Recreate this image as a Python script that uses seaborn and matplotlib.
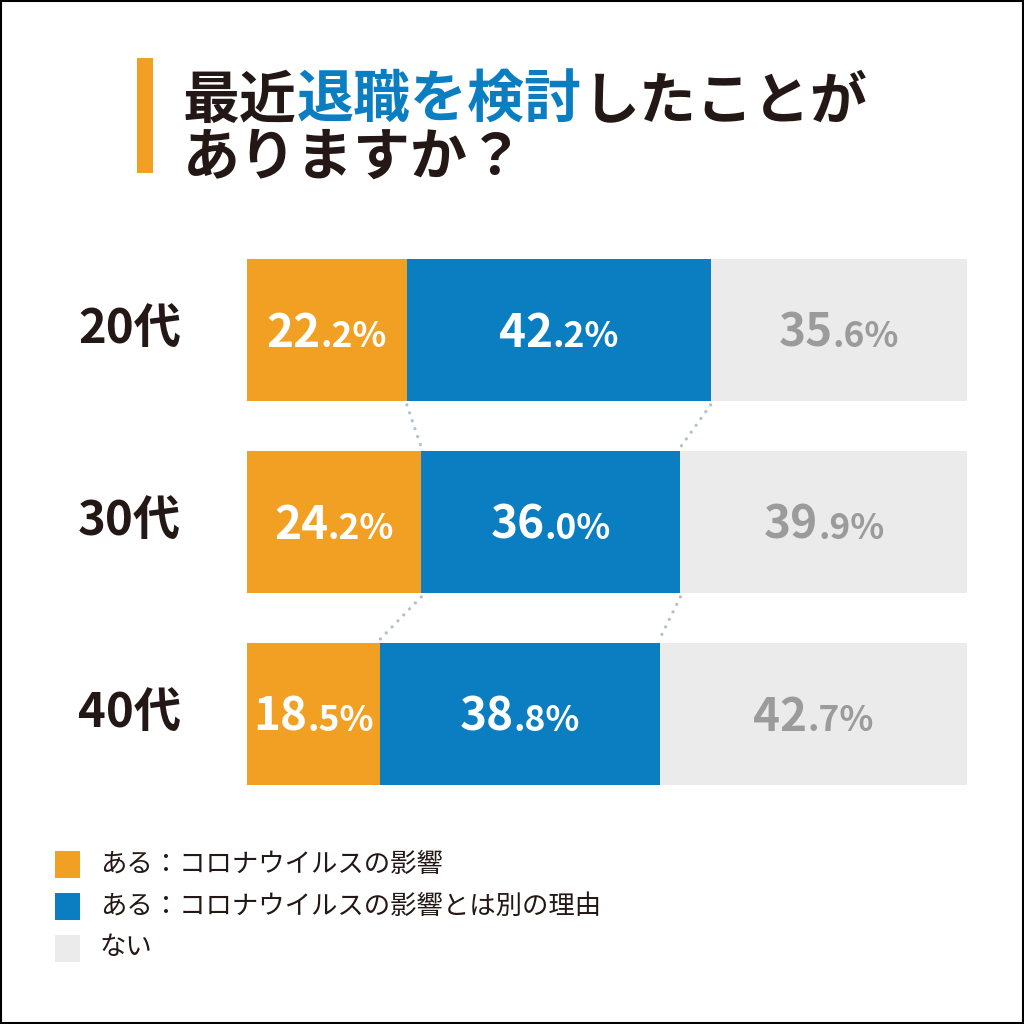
import matplotlib
matplotlib.use("Agg")
import matplotlib.pyplot as plt
import matplotlib.transforms as mtransforms
from matplotlib.patches import Rectangle
import seaborn as sns
import pandas as pd

# data
ages = ["20代", "30代", "40代"]
corona = [22.2, 24.2, 18.5]
other_reason = [42.2, 36.0, 38.8]
no_answer = [35.6, 39.9, 42.7]
legend_labels = ["ある：コロナウイルスの影響",
                 "ある：コロナウイルスの影響とは別の理由",
                 "ない"]
title_line1 = [("最近", "dark"), ("退職を検討", "blue"), ("したことが", "dark")]
title_line2 = "ありますか？"

ORANGE = "#F2A024"
BLUE = "#0B7EC2"
LIGHT = "#EBEBEB"
DARK = "#231815"
GRAYTXT = "#9B9B9B"
DOT = "#B4C1CB"

sns.set_style("white")
plt.rcParams["font.family"] = ["Noto Sans CJK JP", "DejaVu Sans"]

W = H = 1024
fig = plt.figure(figsize=(W / 100, H / 100), dpi=100)
fig.patch.set_facecolor("white")

df = pd.DataFrame({"age": ages, "corona": corona,
                   "other": other_reason, "none": no_answer})
df["cum2"] = df["corona"] + df["other"]
df["total"] = df["cum2"] + df["none"]

# bar area: x 247..967 px, rows centred at 330/522/714 px
ax = fig.add_axes([247 / W, 1 - 810 / H, 720 / W, 576 / H])
bw = 0.74
for col, c in [("total", LIGHT), ("cum2", BLUE), ("corona", ORANGE)]:
    sns.barplot(data=df, x=col, y="age", color=c, width=bw, saturation=1,
                orient="h", ax=ax, linewidth=0)
ax.set_xlim(0, 100)
ax.set_ylim(2.5, -0.5)
ax.axis("off")

# dotted connectors between rows
for i in range(len(ages) - 1):
    for a, b in [(df["corona"][i], df["corona"][i + 1]),
                 (df["cum2"][i], df["cum2"][i + 1])]:
        ax.plot([a, b], [i + bw / 2 + 0.02, i + 1 - bw / 2 - 0.02],
                color=DOT, lw=2.4, linestyle=(0, (0.01, 2.5)),
                dash_capstyle="round", solid_capstyle="round")

# category labels
blend = mtransforms.blended_transform_factory(fig.transFigure, ax.transData)
for i, a in enumerate(ages):
    ax.text(78 / W, i, a, transform=blend, ha="left", va="center",
            fontsize=34, fontweight="bold", color=DARK)

# value labels: big integer part + smaller decimal part
pairs = []
for i in range(len(ages)):
    segs = [(df["corona"][i] / 2, df["corona"][i], "white"),
            (df["corona"][i] + df["other"][i] / 2, df["other"][i], "white"),
            (df["cum2"][i] + df["none"][i] / 2, df["none"][i], GRAYTXT)]
    for cx, v, tc in segs:
        s = f"{v:.1f}"
        big, dec = s.split(".")
        tb = ax.text(cx, i + 0.088, big, ha="right", va="baseline",
                     fontsize=33, fontweight="bold", color=tc)
        ts = ax.text(cx, i + 0.088, "." + dec + "%", ha="left", va="baseline",
                     fontsize=25.5, fontweight="bold", color=tc)
        pairs.append((cx, tb, ts))

# title bar and legend squares
fig.add_artist(Rectangle((137 / W, 1 - 173 / H), 16 / W, 115 / H,
                         transform=fig.transFigure, color=ORANGE, lw=0))
for k, (lab, c) in enumerate(zip(legend_labels, [ORANGE, BLUE, LIGHT])):
    yc = 864 + 42 * k
    fig.add_artist(Rectangle((55 / W, 1 - (yc + 13.5) / H), 25 / W, 27 / H,
                             transform=fig.transFigure, color=c, lw=0))
    fig.text(100 / W, 1 - yc / H, lab, ha="left", va="center",
             fontsize=19, color=DARK)

fig.canvas.draw()
r = fig.canvas.get_renderer()

px_per_unit = ax.get_window_extent(r).width / 100
for cx, tb, ts in pairs:
    wb = tb.get_window_extent(r).width
    ws = ts.get_window_extent(r).width
    shift = (wb - ws) / 2 / px_per_unit
    tb.set_x(cx + shift)
    ts.set_x(cx + shift)

# title with coloured middle part
x = 183
for part, key in title_line1:
    t = fig.text(x / W, 1 - 101 / H, part, ha="left", va="center",
                 fontsize=41, fontweight="bold",
                 color=BLUE if key == "blue" else DARK)
    x += t.get_window_extent(r).width
fig.text(183 / W, 1 - 158 / H, title_line2, ha="left", va="center",
         fontsize=41, fontweight="bold", color=DARK)

# thin outer frame
fig.add_artist(Rectangle((0.001, 0.001), 0.998, 0.998, transform=fig.transFigure,
                         fill=False, edgecolor="black", lw=1.5))

fig.savefig("out.png", dpi=100)
